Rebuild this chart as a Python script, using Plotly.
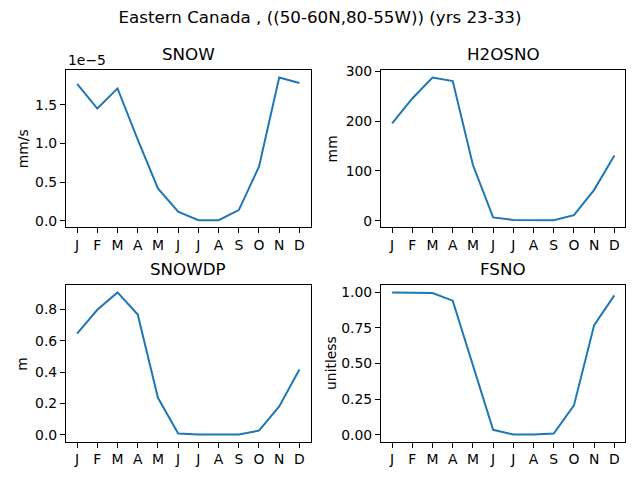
import plotly.graph_objs as go
from plotly.subplots import make_subplots

## Dados mensais (médias climatológicas, anos 23-33)
meses = ['J', 'F', 'M', 'A', 'M', 'J', 'J', 'A', 'S', 'O', 'N', 'D']
snow = [1.77e-5, 1.45e-5, 1.71e-5, 1.05e-5, 0.42e-5, 0.12e-5,
        0.01e-5, 0.01e-5, 0.14e-5, 0.70e-5, 1.85e-5, 1.78e-5]
h2osno = [196, 246, 288, 281, 112, 6.6, 1.3, 1.0, 1.0, 11, 62, 131]
snowdp = [0.646, 0.798, 0.909, 0.768, 0.236, 0.008, 0.002, 0.002, 0.002, 0.027, 0.181, 0.417]
fsno = [0.998, 0.998, 0.993, 0.94, 0.49, 0.035, 0.002, 0.002, 0.009, 0.206, 0.769, 0.977]

titulo = 'Eastern Canada , ((50-60N,80-55W)) (yrs 23-33)'
cor = '#1f77b4'
fonte = 'DejaVu Sans'

# (nome, valores, unidade, linha, coluna, ticks, texto dos ticks)
paineis = [
    ('SNOW', snow, 'mm/s', 1, 1, [0, 0.5e-5, 1.0e-5, 1.5e-5], ['0.0', '0.5', '1.0', '1.5']),
    ('H2OSNO', h2osno, 'mm', 1, 2, [0, 100, 200, 300], ['0', '100', '200', '300']),
    ('SNOWDP', snowdp, 'm', 2, 1, [0, 0.2, 0.4, 0.6, 0.8], ['0.0', '0.2', '0.4', '0.6', '0.8']),
    ('FSNO', fsno, 'unitless', 2, 2, [0, 0.25, 0.5, 0.75, 1.0], ['0.00', '0.25', '0.50', '0.75', '1.00']),
]

dom_x = {1: [0.1031, 0.4852], 2: [0.5953, 0.9773]}
dom_y = {1: [0.5333, 0.8656], 2: [0.0792, 0.4104]}
label_x = {1: 0.035, 2: 0.518}

fig = make_subplots(rows=2, cols=2)
x = list(range(len(meses)))

for nome, vals, unid, r, c, tv, tt in paineis:
    fig.add_trace(go.Scatter(x=x, y=vals, mode='lines', line=dict(color=cor, width=2),
                             showlegend=False), row=r, col=c)
    lo, hi = min(vals), max(vals)
    pad = 0.05 * (hi - lo)
    fig.update_xaxes(domain=dom_x[c], range=[-0.55, 11.55], tickvals=x, ticktext=meses,
                     row=r, col=c)
    fig.update_yaxes(domain=dom_y[r], range=[lo - pad, hi + pad], tickvals=tv, ticktext=tt,
                     row=r, col=c)
    # título do painel
    fig.add_annotation(text=nome, x=sum(dom_x[c]) / 2, y=dom_y[r][1], xref='paper', yref='paper',
                       xanchor='center', yanchor='bottom', yshift=4, showarrow=False,
                       font=dict(size=16.7, color='black', family=fonte))
    # unidade no eixo y
    fig.add_annotation(text=unid, x=label_x[c], y=sum(dom_y[r]) / 2, xref='paper', yref='paper',
                       xanchor='center', yanchor='middle', textangle=-90, showarrow=False,
                       font=dict(size=13.9, color='black', family=fonte))

# fator de escala do SNOW
fig.add_annotation(text='1e\u22125', x=dom_x[1][0], y=dom_y[1][1], xref='paper', yref='paper',
                   xanchor='left', yanchor='bottom', yshift=0, showarrow=False,
                   font=dict(size=13.9, color='black', family=fonte))

fig.update_xaxes(showgrid=False, zeroline=False, showline=True, mirror=True, linewidth=1,
                 linecolor='black', ticks='outside', ticklen=5, tickwidth=1, tickcolor='black',
                 tickfont=dict(size=13.9, color='black', family=fonte))
fig.update_yaxes(showgrid=False, zeroline=False, showline=True, mirror=True, linewidth=1,
                 linecolor='black', ticks='outside', ticklen=5, tickwidth=1, tickcolor='black',
                 tickfont=dict(size=13.9, color='black', family=fonte))

fig.update_layout(width=640, height=480, margin=dict(l=0, r=0, t=0, b=0),
                  plot_bgcolor='white', paper_bgcolor='white',
                  font=dict(family=fonte, color='black'),
                  title=dict(text=titulo, x=0.5, xanchor='center', y=1 - 17 / 480, yanchor='middle',
                             font=dict(size=16.7, color='black', family=fonte)))

# tirar a margem padrão do body para a figura ocupar a janela inteira
fig.write_html('out.html', config={'displayModeBar': False},
               post_script="document.body.style.margin='0';")
